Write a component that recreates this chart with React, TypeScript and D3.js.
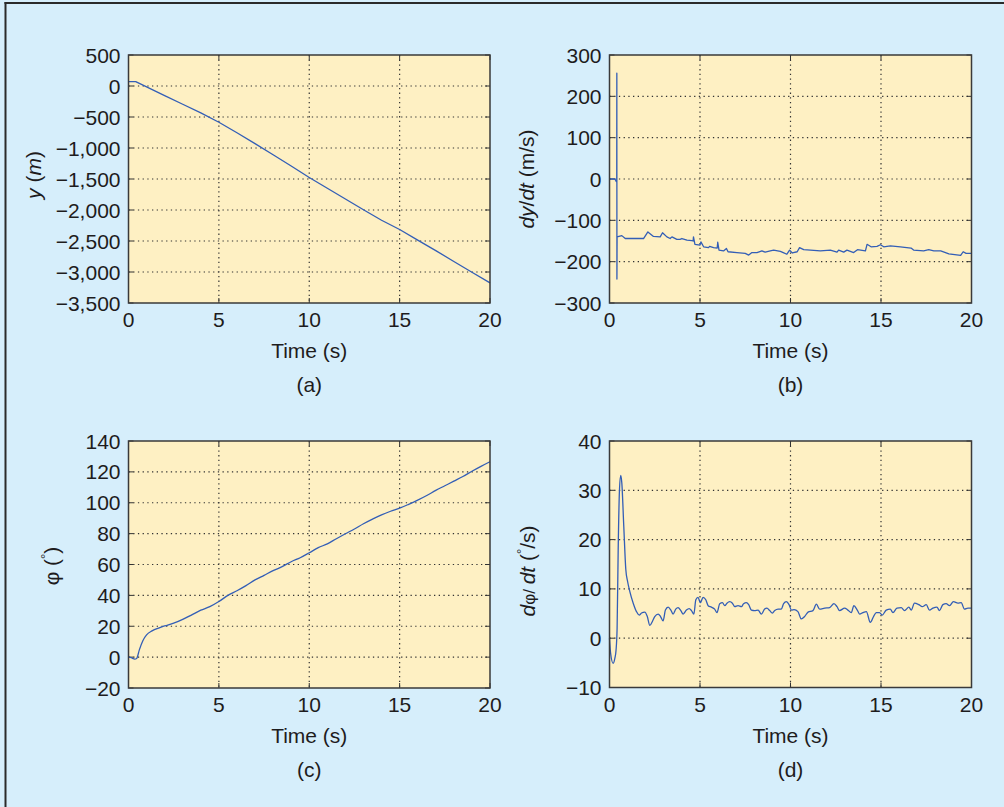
import React from 'react';
import * as d3 from 'd3';

const W = 1004;
const H = 807;

const timeTicks = [0, 5, 10, 15, 20];

// Panel (a): y (m)
const ticksA = [500, 0, -500, -1000, -1500, -2000, -2500, -3000, -3500];
const timeA = [0, 0.4, 1, 2, 3, 4, 5, 6, 7, 8, 9, 10, 11, 12, 13, 14, 15, 16, 17, 18, 19, 20];
const posY = [70, 70, -14, -154, -294, -434, -585, -755, -930, -1108, -1290, -1475, -1650, -1822, -1995, -2165, -2315, -2485, -2655, -2830, -3005, -3175];

// Panel (b): dy/dt (m/s)
const ticksB = [300, 200, 100, 0, -100, -200, -300];
const timeB = [0, 0.3, 0.37, 0.4, 0.405, 0.41, 0.42, 0.68, 0.87, 1.88, 2.12, 2.43, 2.8, 2.93, 3.17, 3.35, 3.45, 3.72, 3.9, 4.0, 4.28, 4.55, 4.62, 4.64, 4.72, 5.0, 5.05, 5.2, 5.47, 5.53, 5.75, 5.95, 5.98, 6.05, 6.3, 6.46, 6.55, 7.04, 7.5, 7.69, 7.87, 8.15, 8.42, 8.6, 8.88, 9.07, 9.44, 9.6, 9.8, 9.95, 10.1, 10.37, 10.5, 10.73, 11.1, 11.65, 12.2, 12.57, 12.66, 12.94, 13.12, 13.49, 13.7, 14.14, 14.23, 14.45, 14.78, 14.97, 15.15, 15.52, 16.07, 16.66, 16.8, 17.36, 17.64, 17.92, 18.3, 18.75, 19.4, 19.54, 19.7, 20];
const velY = [0, 0, -6, -4, 256, -242, -140, -137, -144, -144, -128, -139, -140, -130, -140, -144, -140, -146, -146, -144, -148, -149, -150, -140, -158, -160, -152, -164, -166, -163, -166, -167, -153, -172, -174, -168, -176, -178, -180, -184, -178, -178, -174, -177, -174, -172, -175, -178, -182, -172, -179, -176, -166, -171, -172, -174, -172, -177, -172, -177, -172, -178, -171, -174, -158, -164, -163, -159, -164, -162, -164, -167, -172, -174, -171, -174, -174, -181, -185, -176, -180, -180];

// Panel (c): phi (deg)
const ticksC = [140, 120, 100, 80, 60, 40, 20, 0, -20];
const timeC = [0, 0.15, 0.35, 0.45, 0.6, 0.8, 1.0, 1.3, 1.7, 2, 2.5, 3, 3.5, 4, 4.5, 5, 5.5, 6, 6.5, 7, 7.5, 8, 8.5, 9, 9.5, 10, 10.5, 11, 11.5, 12, 12.5, 13, 13.5, 14, 14.5, 15, 15.5, 16, 16.5, 17, 17.5, 18, 18.5, 19, 19.5, 20];
const phi = [0, -0.4, -1.3, -0.9, 4.7, 10.8, 14.4, 17, 19, 20.2, 22, 24.5, 27.4, 30.4, 32.7, 36, 40, 43, 46.3, 50, 53, 56, 58.6, 61.8, 64.4, 67.6, 70.9, 73.4, 76.7, 79.9, 83, 86.4, 89.4, 92.2, 94.5, 96.5, 99, 101.7, 104.7, 108, 111, 114, 117, 120.4, 123.6, 126.6];

// Panel (d): dphi/dt (deg/s)
const ticksD = [40, 30, 20, 10, 0, -10];
const timeD = [0, 0.06, 0.2, 0.3, 0.36, 0.42, 0.48, 0.55, 0.62, 0.68, 0.79, 0.9, 1.0, 1.12, 1.31, 1.49, 1.64, 1.77, 1.95, 2.08, 2.23, 2.37, 2.5, 2.69, 2.82, 2.96, 3.09, 3.24, 3.39, 3.51, 3.66, 3.79, 3.94, 4.07, 4.25, 4.4, 4.53, 4.66, 4.77, 4.89, 5.02, 5.17, 5.32, 5.45, 5.63, 5.81, 5.94, 6.09, 6.24, 6.37, 6.49, 6.64, 6.79, 6.92, 7.1, 7.29, 7.41, 7.56, 7.69, 7.84, 8.02, 8.21, 8.39, 8.57, 8.7, 8.85, 9.0, 9.13, 9.31, 9.49, 9.62, 9.77, 9.92, 10.05, 10.2, 10.41, 10.6, 10.78, 10.97, 11.24, 11.43, 11.61, 11.89, 12.16, 12.4, 12.57, 12.71, 12.99, 13.17, 13.36, 13.5, 13.69, 13.82, 14.0, 14.19, 14.41, 14.59, 14.74, 14.92, 15.07, 15.29, 15.51, 15.66, 15.88, 16.12, 16.3, 16.54, 16.67, 16.85, 17.09, 17.28, 17.5, 17.68, 17.87, 18.09, 18.23, 18.42, 18.6, 18.79, 19.0, 19.25, 19.43, 19.61, 19.8, 20];
const phiRate = [0, -3, -5.1, -4, -2.5, 2, 18, 30, 33, 31.5, 22.6, 14, 11.5, 9.5, 7.1, 5.4, 4.7, 5.1, 5.3, 4.5, 2.6, 3.4, 4.4, 4.9, 4.4, 3.5, 5.7, 6.3, 5.7, 4.9, 5.9, 6.2, 5.6, 4.9, 5.7, 6.0, 5.6, 4.9, 7.8, 8.3, 7.2, 8.3, 7.8, 6.6, 6.3, 5.9, 5.2, 7.0, 7.2, 6.6, 7.1, 7.4, 7.1, 6.4, 6.6, 6.4, 7.0, 7.2, 6.8, 5.7, 5.6, 5.7, 4.9, 5.9, 6.1, 5.6, 5.1, 5.6, 5.9, 5.9, 7.0, 7.4, 6.8, 5.7, 5.8, 5.4, 3.9, 4.4, 5.3, 5.6, 6.9, 5.9, 6.1, 6.2, 7.0, 6.4, 5.6, 6.1, 5.7, 5.2, 6.6, 5.7, 4.9, 5.2, 5.4, 3.2, 4.4, 5.2, 5.2, 4.7, 5.7, 5.9, 5.2, 6.1, 6.2, 5.6, 6.3, 5.7, 7.1, 6.8, 6.4, 6.8, 5.7, 6.1, 6.3, 5.6, 6.8, 7.0, 6.6, 7.4, 7.1, 7.2, 5.9, 6.1, 6.1];

const FONT = '"Liberation Sans", Arial, Helvetica, sans-serif';
const BG = '#d6eefb';
const PLOT_BG = '#fef0c3';
const LINE = '#335eb6';
const TXT = '#1e1c1d';

function fmt(v: number): string {
  const s = d3.format(',')(Math.abs(v));
  return v < 0 ? '\u2212' + s : s;
}

type PanelProps = {
  left: number;
  top: number;
  width: number;
  height: number;
  yDomain: [number, number];
  yTicks: number[];
  xs: number[];
  ys: number[];
  curve: d3.CurveFactory;
  yLabel: React.ReactNode;
  yLabelX: number;
  yLabelY: number;
  caption: string;
};

function Panel(p: PanelProps) {
  const x = d3.scaleLinear().domain([0, 20]).range([p.left, p.left + p.width]);
  const y = d3.scaleLinear().domain(p.yDomain).range([p.top + p.height, p.top]);
  const pts = p.xs.map((t, i) => [t, p.ys[i]] as [number, number]);
  const line = d3
    .line<[number, number]>()
    .x((d) => x(d[0]))
    .y((d) => y(d[1]))
    .curve(p.curve);
  const bottom = p.top + p.height;
  const right = p.left + p.width;
  const tickLen = 5;
  const cx = p.left + p.width / 2;
  return (
    <g>
      <rect x={p.left} y={p.top} width={p.width} height={p.height} fill={PLOT_BG} />
      {timeTicks.slice(1, -1).map((t) => (
        <line key={'vx' + t} x1={x(t)} x2={x(t)} y1={p.top} y2={bottom} stroke="#333" strokeWidth={1.2} strokeDasharray="1.3,3.4" />
      ))}
      {p.yTicks.slice(1, -1).map((v) => (
        <line key={'hy' + v} x1={p.left} x2={right} y1={y(v)} y2={y(v)} stroke="#333" strokeWidth={1.2} strokeDasharray="1.3,3.4" />
      ))}
      {timeTicks.map((t) => (
        <g key={'tx' + t}>
          <line x1={x(t)} x2={x(t)} y1={bottom} y2={bottom - tickLen} stroke="#333" strokeWidth={1} />
          <line x1={x(t)} x2={x(t)} y1={p.top} y2={p.top + tickLen} stroke="#333" strokeWidth={1} />
        </g>
      ))}
      {p.yTicks.map((v) => (
        <g key={'ty' + v}>
          <line x1={p.left} x2={p.left + tickLen} y1={y(v)} y2={y(v)} stroke="#333" strokeWidth={1} />
          <line x1={right} x2={right - tickLen} y1={y(v)} y2={y(v)} stroke="#333" strokeWidth={1} />
        </g>
      ))}
      <path d={line(pts) || ''} fill="none" stroke={LINE} strokeWidth={1.3} strokeLinejoin="round" />
      <rect x={p.left} y={p.top} width={p.width} height={p.height} fill="none" stroke="#3a3a3a" strokeWidth={1.5} />
      {p.yTicks.map((v) => (
        <text key={'ly' + v} x={p.left - 8} y={y(v) + 7.5} textAnchor="end" fontSize={21} fill={TXT}>
          {fmt(v)}
        </text>
      ))}
      {timeTicks.map((t) => (
        <text key={'lx' + t} x={x(t)} y={bottom + 24} textAnchor="middle" fontSize={21} fill={TXT}>
          {t}
        </text>
      ))}
      <text x={cx} y={bottom + 55} textAnchor="middle" fontSize={21} fill={TXT}>
        Time (s)
      </text>
      <text x={cx} y={bottom + 89} textAnchor="middle" fontSize={21} fill={TXT}>
        {p.caption}
      </text>
      <text
        transform={`translate(${p.yLabelX},${p.yLabelY}) rotate(-90)`}
        textAnchor="middle"
        fontSize={21}
        fill={TXT}
      >
        {p.yLabel}
      </text>
    </g>
  );
}

export default function App() {
  return (
    <svg width={W} height={H} style={{ display: 'block', position: 'absolute', left: 0, top: 0 }} fontFamily={FONT}>
      <rect x={0} y={0} width={W} height={H} fill={BG} />
      <line x1={4.5} x2={W} y1={3} y2={3} stroke="#2a2a2a" strokeWidth={2} />
      <line x1={5.5} x2={5.5} y1={2} y2={H} stroke="#2a2a2a" strokeWidth={2} />
      <Panel
        left={128.5}
        top={55}
        width={361.5}
        height={248}
        yDomain={[-3500, 500]}
        yTicks={ticksA}
        xs={timeA}
        ys={posY}
        curve={d3.curveLinear}
        yLabelX={41}
        yLabelY={175}
        caption="(a)"
        yLabel={
          <>
            <tspan fontStyle="italic">y</tspan>
            <tspan> (</tspan>
            <tspan fontStyle="italic">m</tspan>
            <tspan>)</tspan>
          </>
        }
      />
      <Panel
        left={609.5}
        top={55}
        width={362}
        height={248}
        yDomain={[-300, 300]}
        yTicks={ticksB}
        xs={timeB}
        ys={velY}
        curve={d3.curveLinear}
        yLabelX={534}
        yLabelY={179}
        caption="(b)"
        yLabel={
          <>
            <tspan fontStyle="italic">dy</tspan>
            <tspan>/</tspan>
            <tspan fontStyle="italic">dt</tspan>
            <tspan> (m/s)</tspan>
          </>
        }
      />
      <Panel
        left={128.5}
        top={441}
        width={361.5}
        height={247}
        yDomain={[-20, 140]}
        yTicks={ticksC}
        xs={timeC}
        ys={phi}
        curve={d3.curveMonotoneX}
        yLabelX={58.5}
        yLabelY={566}
        caption="(c)"
        yLabel={
          <>
            <tspan>{'\u03C6 ('}</tspan>
            <tspan fontSize={13} dy={-9}>{'\u00B0'}</tspan>
            <tspan dy={9}>)</tspan>
          </>
        }
      />
      <Panel
        left={609.5}
        top={441}
        width={362}
        height={246.5}
        yDomain={[-10, 40]}
        yTicks={ticksD}
        xs={timeD}
        ys={phiRate}
        curve={d3.curveMonotoneX}
        yLabelX={535}
        yLabelY={571}
        caption="(d)"
        yLabel={
          <>
            <tspan fontStyle="italic">d</tspan>
            <tspan fontSize={17}>{'\u03C6/ '}</tspan>
            <tspan fontStyle="italic">dt</tspan>
            <tspan>{' ('}</tspan>
            <tspan fontSize={13} dy={-9}>{'\u00B0'}</tspan>
            <tspan dy={9}>/s)</tspan>
          </>
        }
      />
    </svg>
  );
}
